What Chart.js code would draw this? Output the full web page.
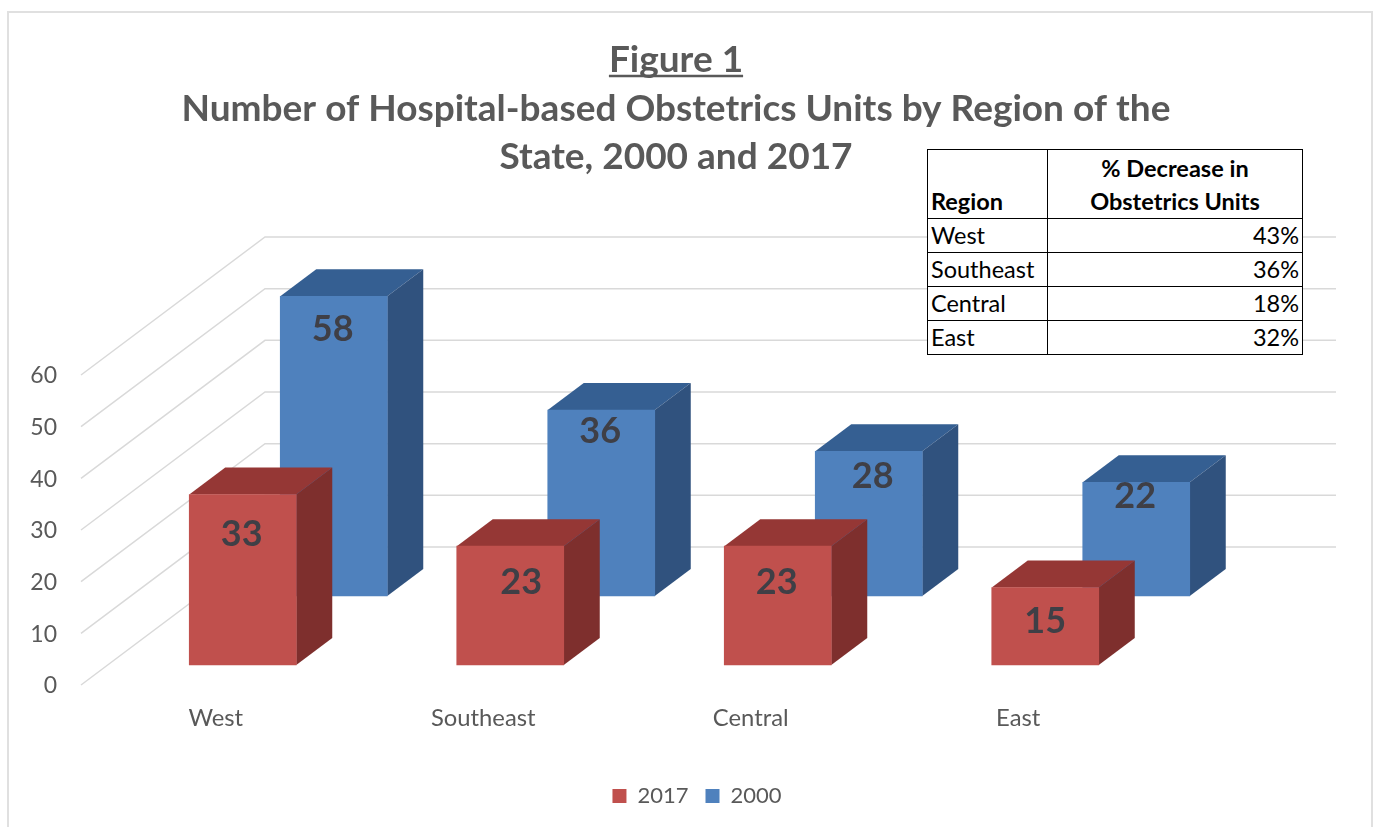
<!DOCTYPE html>
<html>
<head>
<meta charset="utf-8">
<title>Figure 1</title>
<script src="https://cdn.jsdelivr.net/npm/chart.js@4/dist/chart.umd.min.js"></script>
<style>
  html, body { margin: 0; padding: 0; background: #fff; overflow: hidden; }
  #wrap { position: relative; width: 1380px; height: 827px; }
  #frame { position: absolute; left: 7px; top: 11px; width: 1366px; height: 830px; border: 2px solid #e0e0e0; box-sizing: border-box; }
  #myChart { position: absolute; left: 0; top: 0; }
  #pctTable {
    position: absolute; left: 927px; top: 149px; width: 376px;
    border-collapse: collapse; background: #fff; color: #000;
    font: 23.5px/33px Lato, sans-serif; table-layout: fixed;
  }
  #pctTable td, #pctTable th { border: 1px solid #000; padding: 0 3px; vertical-align: bottom; white-space: nowrap; }
  #pctTable th { font-weight: bold; }
  #pctTable th:first-child { text-align: left; }
  #pctTable th:last-child { text-align: center; white-space: normal; }
  #pctTable td:last-child { text-align: right; }
</style>
</head>
<body>
<div id="wrap">
  <canvas id="myChart" width="1380" height="827"></canvas>
  <div id="frame"></div>
  <table id="pctTable"></table>
</div>
<script>
'use strict';

let regions = ['West', 'Southeast', 'Central', 'East'];
let units2017 = [33, 23, 23, 15];
let units2000 = [58, 36, 28, 22];
let yTicks = [0, 10, 20, 30, 40, 50, 60];
let titleLines = ['Figure 1', 'Number of Hospital-based Obstetrics Units by Region of the', 'State, 2000 and 2017'];
let tableHead = ['Region', '% Decrease in Obstetrics Units'];
let tableRegions = ['West', 'Southeast', 'Central', 'East'];
let tablePercents = ['43%', '36%', '18%', '32%'];

// the 3d look: how far each face goes back, in pixels
const boxDepth = { x: 36, y: -27 };
const rowShift = [{ x: 0, y: 0 }, { x: 91, y: -69 }];
const wallDrop = 118;
const floorDrop = 20;
const floorLeft = 81;
const wallLeft = 265;
const wallRight = 1336;

// excel does not centre its labels the same way on each bar
const labelNudge = [
  [{ x: -1, y: 40 }, { x: 11, y: 36 }, { x: -1, y: 36 }, { x: 0, y: 34 }],
  [{ x: -1, y: 33 }, { x: -1, y: 21 }, { x: 4, y: 25 }, { x: -1, y: 14 }],
];

const greyText = '#595959';
const titleSize = 37;

let headHtml = '<tr><th style="height:68px">' + tableHead[0] + '</th><th>' + tableHead[1] + '</th></tr>';
let table = document.getElementById('pctTable');
table.innerHTML = '<colgroup><col style="width:120px"><col></colgroup>' + headHtml;
for (let i = 0; i < tableRegions.length; i++) {
  let row = table.insertRow();
  row.insertCell().textContent = tableRegions[i];
  row.insertCell().textContent = tablePercents[i];
}

const gridPlugin = {
  id: 'wallGrid',
  beforeDatasetsDraw(chart) {
    let ctx = chart.ctx;
    let y = chart.scales.y;
    ctx.save();
    ctx.strokeStyle = '#d9d9d9';
    ctx.lineWidth = 1.5;
    y.ticks.forEach(function (tick) {
      let py = y.getPixelForValue(tick.value);
      ctx.beginPath();
      ctx.moveTo(floorLeft, py + floorDrop);
      ctx.lineTo(wallLeft, py - wallDrop);
      ctx.lineTo(wallRight, py - wallDrop);
      ctx.stroke();
    });
    ctx.restore();
  },
};

const boxPlugin = {
  id: 'boxFaces',
  afterLayout(chart) {
    // legend sits a bit right of the title in the original
    chart.legend.left += 21;
    chart.legend.right += 21;
  },
  beforeDatasetDraw(chart, args) {
    let shift = rowShift[args.index];
    chart.ctx.save();
    chart.ctx.translate(shift.x, shift.y);
    let ds = chart.data.datasets[args.index];
    args.meta.data.forEach(function (bar) {
      let p = bar.getProps(['x', 'y', 'base', 'width']);
      let left = p.x - p.width / 2;
      let right = p.x + p.width / 2;
      let ctx = chart.ctx;
      ctx.fillStyle = ds.topColor;
      ctx.beginPath();
      ctx.moveTo(left, p.y);
      ctx.lineTo(left + boxDepth.x, p.y + boxDepth.y);
      ctx.lineTo(right + boxDepth.x, p.y + boxDepth.y);
      ctx.lineTo(right, p.y);
      ctx.closePath();
      ctx.fill();
      ctx.fillStyle = ds.sideColor;
      ctx.beginPath();
      ctx.moveTo(right, p.y);
      ctx.lineTo(right + boxDepth.x, p.y + boxDepth.y);
      ctx.lineTo(right + boxDepth.x, p.base + boxDepth.y);
      ctx.lineTo(right, p.base);
      ctx.closePath();
      ctx.fill();
    });
  },
  afterDatasetDraw(chart, args) {
    let ctx = chart.ctx;
    let ds = chart.data.datasets[args.index];
    ctx.font = 'bold 36px Lato, sans-serif';
    ctx.fillStyle = '#3f3f46';
    ctx.textAlign = 'center';
    ctx.textBaseline = 'middle';
    args.meta.data.forEach(function (bar, i) {
      let p = bar.getProps(['x', 'y']);
      let nudge = labelNudge[args.index][i];
      ctx.fillText(String(ds.data[i]), p.x + nudge.x, p.y + nudge.y);
    });
    ctx.restore();
  },
  afterDraw(chart) {
    // chart.js has no underline for one title line
    let ctx = chart.ctx;
    ctx.save();
    ctx.font = 'bold ' + titleSize + 'px Lato, sans-serif';
    let w = ctx.measureText(titleLines[0]).width;
    ctx.strokeStyle = greyText;
    ctx.lineWidth = 2.5;
    ctx.beginPath();
    ctx.moveTo(676 - w / 2, 76);
    ctx.lineTo(676 + w / 2, 76);
    ctx.stroke();
    ctx.restore();
  },
};

const chartData = {
  labels: regions,
  datasets: [
    {
      label: '2017',
      data: units2017,
      backgroundColor: '#c0504d',
      topColor: '#953735',
      sideColor: '#7e2f2d',
      barThickness: 107,
      clip: false,
    },
    {
      label: '2000',
      data: units2000,
      backgroundColor: '#4f81bd',
      topColor: '#355f92',
      sideColor: '#30527e',
      barThickness: 107,
      clip: false,
    },
  ],
};

const config = {
  type: 'bar',
  data: chartData,
  plugins: [gridPlugin, boxPlugin],
  options: {
    responsive: false,
    animation: false,
    grouped: false,
    layout: { padding: { left: 0, right: 28, top: 0, bottom: 10 } },
    scales: {
      x: {
        grid: { display: false, drawTicks: false },
        border: { display: false },
        ticks: {
          color: greyText,
          font: { family: 'Lato, sans-serif', size: 23.8 },
          padding: 39,
          labelOffset: -27,
          maxRotation: 0,
        },
        afterFit(scale) {
          scale.height = 103;
        },
      },
      y: {
        min: 0,
        max: 60,
        afterBuildTicks(scale) {
          scale.ticks = yTicks.map((v) => ({ value: v }));
        },
        grid: { display: false, drawTicks: false },
        border: { display: false },
        ticks: {
          color: greyText,
          font: { family: 'Lato, sans-serif', size: 23 },
          padding: 52,
          labelOffset: 21,
        },
        afterFit(scale) {
          scale.width = 109;
        },
      },
      yRight: {
        position: 'right',
        grid: { display: false, drawTicks: false },
        border: { display: false },
        ticks: { display: false },
        afterFit(scale) {
          scale.width = 173;
        },
      },
    },
    plugins: {
      tooltip: { enabled: false },
      title: {
        display: true,
        text: titleLines,
        color: greyText,
        font: { family: 'Lato, sans-serif', size: titleSize, weight: 'bold', lineHeight: 48.5 / titleSize },
        padding: { top: 36, bottom: 173.5 },
      },
      legend: {
        position: 'bottom',
        labels: {
          color: greyText,
          font: { family: 'Lato, sans-serif', size: 22 },
          boxWidth: 14,
          boxHeight: 14,
          padding: 17,
        },
      },
    },
  },
};

new Chart(document.getElementById('myChart').getContext('2d'), config);
</script>
</body>
</html>
